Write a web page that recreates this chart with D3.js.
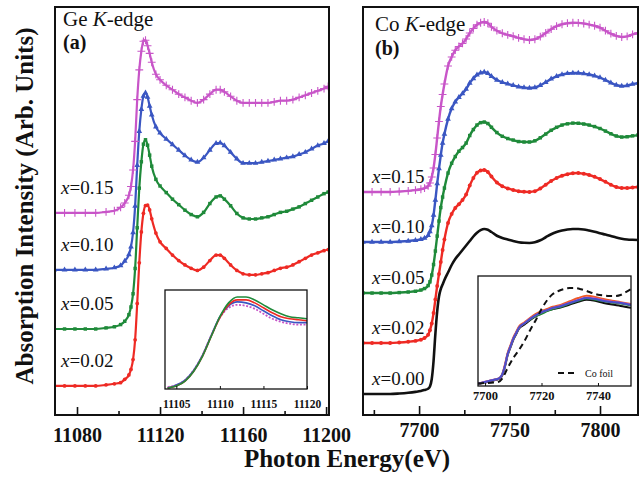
<!DOCTYPE html>
<html>
<head>
<meta charset="utf-8">
<script src="https://cdn.jsdelivr.net/npm/d3@7"></script>
<style>
  body { margin: 0; background: #fff; }
  svg { display: block; font-family: "Liberation Serif", "Times New Roman", serif; }
</style>
</head>
<body>
<svg width="642" height="481"></svg>
<script>
// ---- Ge K-edge (panel a) ----
var geEnergy = [11069, 11074, 11079, 11084, 11089, 11094, 11098, 11101, 11103, 11105,
  11106, 11107, 11108, 11109, 11110, 11111, 11112, 11113, 11114, 11115,
  11116, 11118, 11120, 11123, 11126, 11129, 11132, 11135, 11138, 11141,
  11144, 11147, 11149, 11151, 11154, 11157, 11160, 11163, 11166, 11169,
  11172, 11175, 11178, 11181, 11184, 11187, 11190, 11193, 11196, 11199, 11201];
var geMu002 = [0, 0, 0, 0, 0, 0.01, 0.02, 0.03, 0.06, 0.10,
  0.15, 0.24, 0.42, 0.75, 1.12, 1.40, 1.57, 1.64, 1.645, 1.60,
  1.52, 1.39, 1.31, 1.25, 1.19, 1.14, 1.10, 1.07, 1.05, 1.08,
  1.14, 1.19, 1.19, 1.16, 1.10, 1.05, 1.02, 1.01, 1.01, 1.02,
  1.03, 1.05, 1.07, 1.08, 1.10, 1.13, 1.16, 1.19, 1.21, 1.23, 1.24];
var geMu005 = [0, 0, 0, 0, 0, 0.01, 0.02, 0.04, 0.07, 0.13,
  0.20, 0.32, 0.55, 0.92, 1.28, 1.52, 1.68, 1.72, 1.67, 1.58,
  1.48, 1.36, 1.30, 1.24, 1.18, 1.13, 1.08, 1.04, 1.02, 1.06,
  1.14, 1.20, 1.21, 1.18, 1.12, 1.05, 1.01, 1.00, 1.00, 1.01,
  1.02, 1.04, 1.06, 1.07, 1.09, 1.11, 1.14, 1.17, 1.20, 1.23, 1.245];
var geMu010 = [0, 0, 0, 0, 0, 0.01, 0.02, 0.04, 0.08, 0.14,
  0.21, 0.34, 0.58, 0.95, 1.26, 1.46, 1.58, 1.61, 1.57, 1.49,
  1.41, 1.30, 1.245, 1.19, 1.14, 1.09, 1.04, 1.00, 0.98, 1.02,
  1.09, 1.15, 1.155, 1.13, 1.07, 1.01, 0.97, 0.97, 0.97, 0.98,
  0.99, 1.00, 1.01, 1.02, 1.03, 1.05, 1.07, 1.10, 1.13, 1.15, 1.17];
var geMu015 = [0, 0, 0, 0, 0, 0.01, 0.02, 0.05, 0.09, 0.16,
  0.24, 0.39, 0.65, 1.03, 1.30, 1.47, 1.56, 1.57, 1.52, 1.45,
  1.37, 1.26, 1.21, 1.16, 1.12, 1.08, 1.05, 1.02, 1.00, 1.03,
  1.08, 1.12, 1.12, 1.10, 1.06, 1.02, 1.00, 1.00, 1.00, 1.00,
  1.00, 1.01, 1.02, 1.02, 1.03, 1.05, 1.07, 1.09, 1.11, 1.13, 1.15];
var geOffsets = [0, 0.518, 1.055, 1.573];
var geLabels = ["0.02", "0.05", "0.10", "0.15"];
var geMajorTicks = [11080, 11120, 11160, 11200];
var geMinorTicks = [11100, 11140, 11180];

// inset (a): zoom on the white line
var geInsetEnergy = [11104, 11105, 11106, 11107, 11108, 11109, 11110, 11111, 11112,
  11113, 11114, 11115, 11116, 11117, 11118, 11119, 11120];
var geInset002 = [0.01, 0.03, 0.08, 0.18, 0.33, 0.53, 0.72, 0.85, 0.90, 0.90, 0.87, 0.82, 0.77, 0.73, 0.71, 0.70, 0.69];
var geInset005 = [0.01, 0.03, 0.08, 0.18, 0.33, 0.53, 0.73, 0.87, 0.93, 0.93, 0.90, 0.85, 0.80, 0.76, 0.73, 0.72, 0.71];
var geInset010 = [0.01, 0.04, 0.09, 0.19, 0.34, 0.54, 0.73, 0.84, 0.88, 0.87, 0.84, 0.79, 0.74, 0.70, 0.68, 0.67, 0.67];
var geInset015 = [0.02, 0.04, 0.09, 0.19, 0.34, 0.54, 0.72, 0.82, 0.85, 0.84, 0.81, 0.76, 0.71, 0.68, 0.66, 0.65, 0.65];
var geInsetTicks = [11105, 11110, 11115, 11120];

// ---- Co K-edge (panel b) ----
var coEnergy = [7669, 7674, 7679, 7684, 7689, 7694, 7698, 7701, 7703, 7705,
  7706, 7707, 7708, 7709, 7710, 7711, 7712, 7713, 7714, 7716,
  7718, 7720, 7722, 7724, 7726, 7728, 7730, 7732, 7734, 7736,
  7738, 7740, 7743, 7746, 7749, 7752, 7755, 7758, 7761, 7764,
  7767, 7770, 7773, 7776, 7779, 7782, 7785, 7788, 7791, 7794,
  7797, 7800, 7803, 7806, 7809, 7812, 7815, 7818, 7821];
var coMu000 = [0, 0, 0, 0, 0.003, 0.008, 0.014, 0.02, 0.027, 0.035,
  0.05, 0.10, 0.22, 0.40, 0.55, 0.65, 0.70, 0.73, 0.76, 0.81,
  0.86, 0.90, 0.93, 0.96, 0.99, 1.02, 1.05, 1.075, 1.092, 1.10,
  1.095, 1.08, 1.055, 1.04, 1.03, 1.02, 1.012, 1.008, 1.007, 1.012,
  1.025, 1.045, 1.065, 1.08, 1.09, 1.097, 1.1, 1.1, 1.097, 1.09,
  1.082, 1.072, 1.063, 1.053, 1.043, 1.035, 1.03, 1.028, 1.027];
var coMu002 = [0, 0, 0, 0, 0.003, 0.008, 0.014, 0.022, 0.033, 0.055,
  0.085, 0.13, 0.20, 0.29, 0.38, 0.46, 0.54, 0.62, 0.69, 0.80,
  0.86, 0.90, 0.925, 0.953, 0.99, 1.05, 1.10, 1.135, 1.15, 1.153,
  1.14, 1.11, 1.07, 1.045, 1.03, 1.02, 1.012, 1.008, 1.007, 1.012,
  1.03, 1.055, 1.08, 1.1, 1.115, 1.125, 1.132, 1.133, 1.128, 1.12,
  1.108, 1.093, 1.075, 1.055, 1.04, 1.033, 1.033, 1.037, 1.04];
var coMu005 = [0, 0, 0, 0, 0.003, 0.007, 0.012, 0.02, 0.03, 0.05,
  0.075, 0.12, 0.19, 0.28, 0.38, 0.48, 0.57, 0.64, 0.70, 0.80,
  0.865, 0.91, 0.945, 0.97, 1.00, 1.05, 1.09, 1.12, 1.136, 1.14,
  1.13, 1.105, 1.07, 1.045, 1.03, 1.02, 1.01, 1.007, 1.007, 1.015,
  1.035, 1.06, 1.085, 1.105, 1.12, 1.128, 1.133, 1.132, 1.127, 1.12,
  1.11, 1.097, 1.08, 1.062, 1.047, 1.04, 1.042, 1.048, 1.053];
var coMu010 = [0, 0, 0, 0, 0.003, 0.007, 0.012, 0.018, 0.026, 0.045,
  0.07, 0.11, 0.18, 0.28, 0.39, 0.49, 0.58, 0.66, 0.72, 0.82,
  0.89, 0.935, 0.965, 0.99, 1.02, 1.06, 1.09, 1.115, 1.128, 1.133,
  1.125, 1.105, 1.08, 1.065, 1.055, 1.045, 1.035, 1.03, 1.027, 1.03,
  1.045, 1.065, 1.088, 1.105, 1.117, 1.124, 1.127, 1.127, 1.123, 1.117,
  1.108, 1.097, 1.08, 1.062, 1.047, 1.04, 1.043, 1.053, 1.06];
var coMu015 = [0, 0, 0, 0, 0.003, 0.007, 0.012, 0.018, 0.025, 0.04,
  0.06, 0.10, 0.16, 0.25, 0.36, 0.47, 0.57, 0.65, 0.72, 0.84,
  0.90, 0.945, 0.97, 0.99, 1.02, 1.06, 1.09, 1.115, 1.128, 1.133,
  1.125, 1.10, 1.075, 1.058, 1.047, 1.038, 1.027, 1.018, 1.013, 1.018,
  1.035, 1.06, 1.085, 1.105, 1.118, 1.125, 1.128, 1.127, 1.123, 1.116,
  1.108, 1.095, 1.075, 1.055, 1.04, 1.033, 1.037, 1.05, 1.06];
var coOffsets = [0, 0.34, 0.673, 1.013, 1.347];
var coLabels = ["0.00", "0.02", "0.05", "0.10", "0.15"];
var coMajorTicks = [7700, 7750, 7800];
var coMinorTicks = [7675, 7725, 7775];

// inset (b): edge region with Co foil reference
var coInsetEnergy = [7697.5, 7700, 7703, 7705, 7706, 7707, 7708, 7709, 7710, 7711, 7712, 7714, 7716,
  7718, 7720, 7722, 7724, 7727, 7730, 7733, 7736, 7739, 7742, 7745, 7748, 7751.7];
var coInset000 = [0.018, 0.033, 0.05, 0.065, 0.09, 0.17, 0.28, 0.35, 0.42, 0.47, 0.52, 0.56, 0.60,
  0.635, 0.66, 0.685, 0.70, 0.715, 0.74, 0.765, 0.785, 0.775, 0.755, 0.74, 0.728, 0.71];
var coInset002 = [0.02, 0.036, 0.055, 0.07, 0.10, 0.19, 0.30, 0.37, 0.44, 0.49, 0.54, 0.58, 0.62,
  0.655, 0.68, 0.70, 0.72, 0.74, 0.77, 0.80, 0.82, 0.81, 0.79, 0.775, 0.762, 0.745];
var coInset005 = [0.02, 0.036, 0.055, 0.07, 0.10, 0.18, 0.29, 0.36, 0.43, 0.48, 0.53, 0.57, 0.605,
  0.635, 0.655, 0.68, 0.70, 0.72, 0.75, 0.775, 0.795, 0.785, 0.77, 0.76, 0.75, 0.732];
var coInset010 = [0.02, 0.036, 0.055, 0.07, 0.10, 0.18, 0.29, 0.36, 0.43, 0.48, 0.53, 0.57, 0.61,
  0.645, 0.67, 0.69, 0.71, 0.727, 0.755, 0.78, 0.80, 0.79, 0.773, 0.764, 0.755, 0.736];
var coInset015 = [0.022, 0.038, 0.056, 0.07, 0.10, 0.18, 0.29, 0.36, 0.43, 0.48, 0.53, 0.572, 0.612,
  0.645, 0.67, 0.69, 0.71, 0.73, 0.757, 0.783, 0.802, 0.795, 0.778, 0.766, 0.756, 0.738];
var coFoilEnergy = [7697.5, 7700, 7703, 7705, 7706, 7708, 7710, 7712, 7714, 7716, 7718, 7720, 7722, 7724,
  7726, 7728, 7730, 7732, 7734, 7736, 7738, 7740, 7742, 7744, 7746, 7748, 7750, 7751.7];
var coFoil = [0.023, 0.027, 0.032, 0.04, 0.064, 0.164, 0.255, 0.327, 0.41, 0.51, 0.60, 0.70, 0.78, 0.836,
  0.864, 0.882, 0.89, 0.89, 0.88, 0.864, 0.845, 0.83, 0.823, 0.818, 0.818, 0.827, 0.855, 0.88];
var coInsetTicks = [7700, 7720, 7740];

// ---- styles ----
var serif = "'Liberation Serif', 'Times New Roman', serif";
var cMagenta = "#c855c8", cBlue = "#3a56c2", cGreen = "#1f8a3a", cRed = "#ee2a24", cBlack = "#111";

var svg = d3.select("svg");

var geX = d3.scaleLinear().domain([11069.4, 11201.4]).range([55, 329]);
var geY = d3.scaleLinear().domain([-0.264, 3.445]).range([415, 7]);
var coX = d3.scaleLinear().domain([7669, 7821]).range([363, 638]);
var coY = d3.scaleLinear().domain([-0.14, 2.58]).range([415, 7]);

var geInX = d3.scaleLinear().domain([11103.7, 11120]).range([165, 307]);
var geInY = d3.scaleLinear().domain([0, 1]).range([389, 290]);
var coInX = d3.scaleLinear().domain([7697.5, 7751.7]).range([478, 631]);
var coInY = d3.scaleLinear().domain([0, 1]).range([386, 276]);

var defs = svg.append("defs");

function clipFor(id, x, y) {
  defs.append("clipPath").attr("id", id).append("rect")
    .attr("x", x.range()[0])
    .attr("y", y.range()[1])
    .attr("width", x.range()[1] - x.range()[0])
    .attr("height", y.range()[0] - y.range()[1]);
  return "url(#" + id + ")";
}

function drawCurves(g, x, y, energy, series, lineWidth) {
  series.forEach(function (s) {
    var pts = energy.map(function (e, i) { return [e, s.values[i] + (s.offset || 0)]; });
    var line = d3.line()
      .x(function (d) { return x(d[0]); })
      .y(function (d) { return y(d[1]); })
      .curve(d3.curveMonotoneX);
    g.append("path")
      .attr("d", line(pts))
      .attr("fill", "none")
      .attr("stroke", s.color)
      .attr("stroke-width", s.width || lineWidth)
      .attr("stroke-dasharray", s.dash || null);
    if (s.marker) {
      var stroked = s.marker === d3.symbolPlus;
      g.selectAll(null)
        .data(pts)
        .enter()
        .append("path")
        .attr("transform", function (d) { return "translate(" + x(d[0]) + "," + y(d[1]) + ")"; })
        .attr("d", d3.symbol().type(s.marker).size(s.size))
        .attr("fill", stroked ? "none" : s.color)
        .attr("stroke", stroked ? s.color : "none")
        .attr("stroke-width", 1.1);
    }
  });
}

function bottomTicks(x, y0, major, minor, opts) {
  var ga = svg.append("g").attr("transform", "translate(0," + y0 + ")");
  ga.call(d3.axisBottom(x).tickValues(major).tickSize(-opts.majorLen)
      .tickPadding(opts.pad).tickFormat(d3.format("d")))
    .call(function (a) { a.select(".domain").remove(); });
  ga.attr("font-family", serif);
  ga.selectAll("text")
    .attr("fill", "#111")
    .attr("font-family", serif)
    .attr("font-weight", "bold")
    .attr("font-size", opts.font);
  ga.selectAll("line").attr("stroke", "#111").attr("stroke-width", opts.tickWidth);
  if (minor) {
    var gm = svg.append("g").attr("transform", "translate(0," + y0 + ")");
    gm.call(d3.axisBottom(x).tickValues(minor).tickSize(-opts.minorLen).tickFormat(""))
      .call(function (a) { a.select(".domain").remove(); });
    gm.selectAll("line").attr("stroke", "#111").attr("stroke-width", opts.tickWidth);
  }
}

function frame(x, y, w) {
  svg.append("rect")
    .attr("x", x.range()[0])
    .attr("y", y.range()[1])
    .attr("width", x.range()[1] - x.range()[0])
    .attr("height", y.range()[0] - y.range()[1])
    .attr("fill", "none")
    .attr("stroke", "#111")
    .attr("stroke-width", w);
}

function sampleLabel(xPos, yPos, value) {
  var t = svg.append("text").attr("x", xPos).attr("y", yPos)
    .attr("font-family", serif).attr("font-size", 19).attr("fill", "#111");
  t.append("tspan").attr("font-style", "italic").text("x");
  t.append("tspan").text("=" + value);
}

function edgeTitle(xPos, yPos, element, tag, tagY) {
  var t = svg.append("text").attr("x", xPos).attr("y", yPos)
    .attr("font-family", serif).attr("font-size", 21).attr("fill", "#111");
  t.append("tspan").text(element + " ");
  t.append("tspan").attr("font-style", "italic").text("K");
  t.append("tspan").text("-edge");
  svg.append("text").attr("x", xPos).attr("y", tagY)
    .attr("font-family", serif).attr("font-size", 20).attr("font-weight", "bold")
    .attr("fill", "#111")
    .text(tag);
}

// ---- panel (a) ----
var geSeries = [
  { values: geMu002, offset: geOffsets[0], color: cRed, marker: d3.symbolCircle, size: 11 },
  { values: geMu005, offset: geOffsets[1], color: cGreen, marker: d3.symbolSquare, size: 12 },
  { values: geMu010, offset: geOffsets[2], color: cBlue, marker: d3.symbolTriangle, size: 14 },
  { values: geMu015, offset: geOffsets[3], color: cMagenta, marker: d3.symbolPlus, size: 22 }
];
var gePlot = svg.append("g").attr("clip-path", clipFor("clipA", geX, geY));
drawCurves(gePlot, geX, geY, geEnergy, geSeries, 2.2);

geLabels.forEach(function (lab, i) {
  sampleLabel(61, geY(geOffsets[i]) - 19, lab);
});
edgeTitle(63, 26, "Ge", "(a)", 49);

// inset (a)
svg.append("rect")
  .attr("x", 165).attr("y", 290).attr("width", 142).attr("height", 99)
  .attr("fill", "#fff");
var geInPlot = svg.append("g").attr("clip-path", clipFor("clipAi", geInX, geInY));
drawCurves(geInPlot, geInX, geInY, geInsetEnergy, [
  { values: geInset015, color: cMagenta, dash: "2,1.6", width: 1.8 },
  { values: geInset010, color: cBlue },
  { values: geInset002, color: cRed },
  { values: geInset005, color: cGreen }
], 1.6);
frame(geInX, geInY, 1.3);
bottomTicks(geInX, 389, geInsetTicks, null,
  { majorLen: 3, minorLen: 2, pad: 11, font: 11.5, tickWidth: 1 });

frame(geX, geY, 2);
bottomTicks(geX, 415, geMajorTicks, geMinorTicks,
  { majorLen: 8, minorLen: 4, pad: 12.8, font: 20, tickWidth: 1.6 });

// ---- panel (b) ----
var coSeries = [
  { values: coMu000, offset: coOffsets[0], color: cBlack, width: 2.6 },
  { values: coMu002, offset: coOffsets[1], color: cRed, marker: d3.symbolCircle, size: 12 },
  { values: coMu005, offset: coOffsets[2], color: cGreen, marker: d3.symbolSquare, size: 12 },
  { values: coMu010, offset: coOffsets[3], color: cBlue, marker: d3.symbolTriangle, size: 14 },
  { values: coMu015, offset: coOffsets[4], color: cMagenta, marker: d3.symbolPlus, size: 22 }
];
var coPlot = svg.append("g").attr("clip-path", clipFor("clipB", coX, coY));
drawCurves(coPlot, coX, coY, coEnergy, coSeries, 2.4);

coLabels.forEach(function (lab, i) {
  sampleLabel(372, coY(coOffsets[i]) - 9, lab);
});
edgeTitle(375, 31, "Co", "(b)", 55);

// inset (b)
svg.append("rect")
  .attr("x", 478).attr("y", 276).attr("width", 153).attr("height", 110)
  .attr("fill", "#fff");
var coInPlot = svg.append("g").attr("clip-path", clipFor("clipBi", coInX, coInY));
drawCurves(coInPlot, coInX, coInY, coInsetEnergy, [
  { values: coInset000, color: cBlack },
  { values: coInset005, color: cGreen },
  { values: coInset002, color: "#f05a28" },
  { values: coInset015, color: cMagenta },
  { values: coInset010, color: "#4a4fc8" }
], 2);
drawCurves(coInPlot, coInX, coInY, coFoilEnergy, [
  { values: coFoil, color: cBlack, dash: "6,4", width: 2 }
], 2);
frame(coInX, coInY, 1.3);
bottomTicks(coInX, 386, coInsetTicks, null,
  { majorLen: 3, minorLen: 2, pad: 5, font: 12.5, tickWidth: 1 });

// legend for the foil
svg.append("line")
  .attr("x1", 558).attr("x2", 578).attr("y1", 373).attr("y2", 373)
  .attr("stroke", cBlack).attr("stroke-width", 2).attr("stroke-dasharray", "6,4");
svg.append("text").attr("x", 585).attr("y", 376.5)
  .attr("font-family", serif).attr("font-size", 10).attr("fill", "#111").text("Co foil");

frame(coX, coY, 2);
bottomTicks(coX, 415, coMajorTicks, coMinorTicks,
  { majorLen: 9, minorLen: 5, pad: 7.8, font: 20, tickWidth: 1.6 });

// ---- axis titles ----
svg.append("text")
  .attr("transform", "translate(33,206) rotate(-90)")
  .attr("text-anchor", "middle")
  .attr("font-family", serif).attr("font-size", 25).attr("font-weight", "bold")
  .attr("fill", "#111")
  .text("Absorption Intensity (Arb. Units)");
svg.append("text")
  .attr("x", 347).attr("y", 467)
  .attr("text-anchor", "middle")
  .attr("font-family", serif).attr("font-size", 25).attr("font-weight", "bold")
  .attr("fill", "#111")
  .text("Photon Energy(eV)");
</script>
</body>
</html>
